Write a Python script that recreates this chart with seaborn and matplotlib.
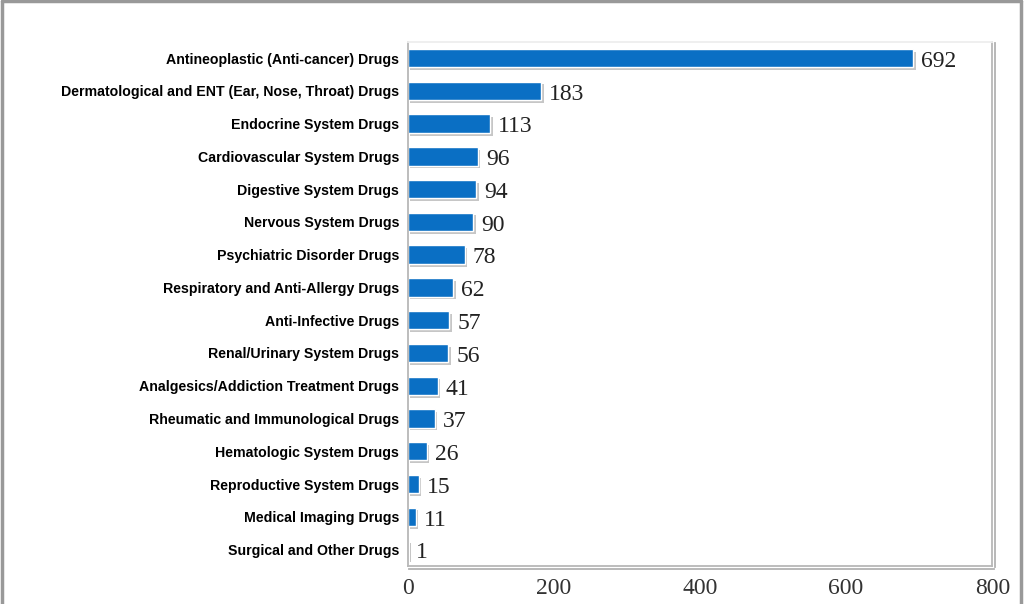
import matplotlib
matplotlib.use('Agg')
import matplotlib.pyplot as plt
import matplotlib.patheffects as pe
from matplotlib.lines import Line2D
import seaborn as sns
import numpy as np
import pandas as pd

categories = [
    "Antineoplastic (Anti-cancer) Drugs",
    "Dermatological and ENT (Ear, Nose, Throat) Drugs",
    "Endocrine System Drugs",
    "Cardiovascular System Drugs",
    "Digestive System Drugs",
    "Nervous System Drugs",
    "Psychiatric Disorder Drugs",
    "Respiratory and Anti-Allergy Drugs",
    "Anti-Infective Drugs",
    "Renal/Urinary System Drugs",
    "Analgesics/Addiction Treatment Drugs",
    "Rheumatic and Immunological Drugs",
    "Hematologic System Drugs",
    "Reproductive System Drugs",
    "Medical Imaging Drugs",
    "Surgical and Other Drugs",
]
counts = [692, 183, 113, 96, 94, 90, 78, 62, 57, 56, 41, 37, 26, 15, 11, 1]
x_ticks = [0, 200, 400, 600, 800]

df = pd.DataFrame({"category": categories, "count": counts})

sns.set_style("white")
fig = plt.figure(figsize=(10.24, 6.04), dpi=100)
ax = fig.add_axes([0.398, 0.063, 0.571, 0.868])

sns.barplot(data=df, y="category", x="count", orient="h", color="#0a6fc4",
            saturation=1, width=0.56, ax=ax)

# soft drop shadow under each bar
shadow = [pe.SimplePatchShadow(offset=(2, -2), shadow_rgbFace="#444444", alpha=0.3),
          pe.Normal()]
for bar in ax.patches:
    bar.set_path_effects(shadow)

for i, v in enumerate(counts):
    ax.text(v + 11, i + 0.1, str(v), va="center", ha="left", fontsize=17,
            family="Liberation Serif", color="#222222")

ax.set_xlim(0, 800)
ax.set_ylim(len(categories) - 0.5, -0.5)
ax.set_xticks(x_ticks)
ax.set_xticklabels([str(t) for t in x_ticks], family="Liberation Serif",
                   fontsize=17, color="#333333")
ax.set_yticks(range(len(categories)))
ax.set_yticklabels(categories, family="Liberation Sans", fontweight="bold",
                   fontsize=10.2, color="black")
ax.set_yticks(np.arange(-0.5, len(categories), 1), minor=True)
ax.tick_params(axis="y", which="major", length=0, pad=6)
ax.tick_params(axis="y", which="minor", length=4, color="#aaaaaa", width=1.2, direction="out")
ax.tick_params(axis="x", length=4, color="#aaaaaa", width=1.2, direction="out", pad=5)
ax.set_xlabel("")
ax.set_ylabel("")

for side, sp in ax.spines.items():
    sp.set_visible(True)
    sp.set_color("#b8b8b8")
    sp.set_linewidth(1.3)
ax.spines["top"].set_color("#eeeeee")
ax.spines["right"].set_path_effects([pe.SimpleLineShadow(offset=(2, -1), alpha=0.3), pe.Normal()])
ax.spines["bottom"].set_path_effects([pe.SimpleLineShadow(offset=(1, -2), alpha=0.3), pe.Normal()])

# outer frame
fig.add_artist(Line2D([0.002, 0.002], [0, 0.998], color="#999999", lw=2.5))
fig.add_artist(Line2D([0.002, 0.997], [0.998, 0.998], color="#999999", lw=2.5))
fig.add_artist(Line2D([0.997, 0.997], [0, 0.998], color="#999999", lw=2.5))

fig.savefig("out.png", dpi=100)
